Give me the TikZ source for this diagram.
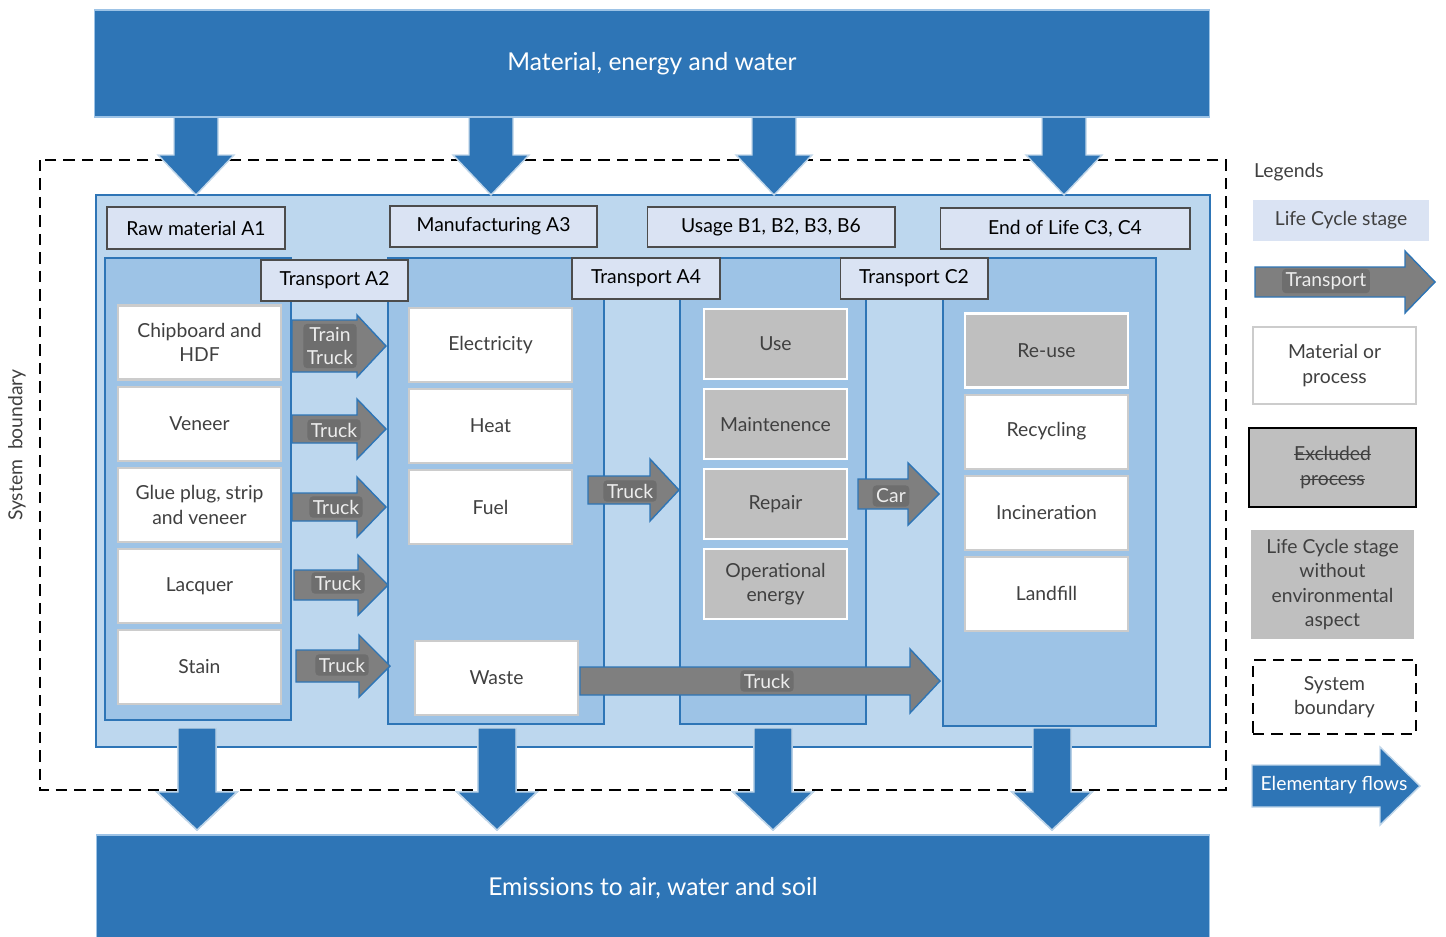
\documentclass[tikz,border=0pt]{standalone}
\usepackage{fontspec}
\setmainfont{Lato}
\usepackage{tikz}
\usetikzlibrary{positioning}
\definecolor{flowblue}{HTML}{2E75B6}
\definecolor{panelblue}{HTML}{BDD7EE}
\definecolor{stageblue}{HTML}{9DC3E6}
\definecolor{headblue}{HTML}{DAE3F3}
\definecolor{excgray}{HTML}{BFBFBF}
\definecolor{trgray}{HTML}{7F7F7F}
\definecolor{txtgray}{HTML}{404040}
\tikzstyle{boxfont} = [font=\fontsize{11}{14}\selectfont]
\tikzstyle{banner} = [rectangle, fill=flowblue, draw=stageblue, line width=0.6pt, text=white, font=\fontsize{14}{16}\selectfont]
\tikzstyle{boundary} = [draw=black, line width=1.1pt, dash pattern=on 6.5pt off 4pt]
\tikzstyle{mainpanel} = [draw=flowblue, fill=panelblue, line width=1pt]
\tikzstyle{stagepanel} = [draw=flowblue, fill=stageblue, line width=1pt]
\tikzstyle{header} = [rectangle, draw=black!70, fill=headblue, line width=0.6pt, text centered, boxfont]
\tikzstyle{material} = [rectangle, draw=black!20, fill=white, line width=1.2pt, text centered, align=center, text=txtgray, boxfont, minimum width=3.26cm, minimum height=1.48cm]
\tikzstyle{excluded} = [rectangle, draw=white, fill=excgray, line width=1.2pt, text centered, align=center, text=txtgray, boxfont, minimum height=1.4cm]
\tikzstyle{transport} = [fill=trgray, draw=flowblue, line width=0.8pt]
\tikzstyle{translabel} = [fill=black!57, rounded corners=2pt, inner sep=2pt, text=white!93!black, align=center, font=\fontsize{11}{13}\selectfont]
\tikzstyle{flow} = [fill=flowblue, draw=flowblue!30, line width=0.8pt]
\tikzstyle{legtext} = [text=txtgray, align=center, boxfont]

% #1 style, #2 left, #3 head base, #4 tip, #5 centre y, #6 shaft half, #7 head half
\newcommand{\blockarrow}[7]{%
  \draw[#1] (#2,{#5-#6}) -- (#3,{#5-#6}) -- (#3,{#5-#7}) -- (#4,#5)
    -- (#3,{#5+#7}) -- (#3,{#5+#6}) -- (#2,{#5+#6}) -- cycle;}
% #1 x, #2 top, #3 head base, #4 tip, #5 shaft half, #6 head half
\newcommand{\downflow}[6]{%
  \draw[flow] ({#1-#5},#2) -- ({#1+#5},#2) -- ({#1+#5},#3) -- ({#1+#6},#3)
    -- (#1,#4) -- ({#1-#6},#3) -- ({#1-#5},#3) -- cycle;}
% struck-through word
\newlength{\strikelen}
\newcommand{\strikeword}[1]{\settowidth{\strikelen}{#1}\rlap{#1}\rule[0.55ex]{\strikelen}{0.5pt}}

\begin{document}
\begin{tikzpicture}[x=0.02cm, y=-0.02cm]
\useasboundingbox (0,0) rectangle (1446,936);

% system boundary, main panel and stages
\draw[boundary] (40,160) rectangle (1226,790);
\node (sysbound) [rotate=90, text=txtgray, boxfont] at (17,445) {System\ \ boundary};
\draw[mainpanel] (96,195) rectangle (1210,747);
\draw[stagepanel] (105,258) rectangle (291,720);
\draw[stagepanel] (388,258) rectangle (604,724);
\draw[stagepanel] (680,258) rectangle (866,724);
\draw[stagepanel] (943,258) rectangle (1156,726);

\node (raw) [header, minimum width=3.56cm, minimum height=0.84cm] at (196,228) {Raw material A1};
\node (manu) [header, minimum width=4.14cm, minimum height=0.82cm] at (493.5,226.5) {Manufacturing A3};
\node (usage) [header, minimum width=4.96cm, minimum height=0.8cm] at (771,227) {Usage B1, B2, B3, B6};
\node (eol) [header, minimum width=5cm, minimum height=0.82cm] at (1065,228.5) {End of Life C3, C4};
\node (trA2) [header, minimum width=2.94cm, minimum height=0.82cm] at (334.5,280.5) {Transport A2};
\node (trA4) [header, minimum width=2.96cm, minimum height=0.82cm] at (646,278.5) {Transport A4};
\node (trC2) [header, minimum width=2.96cm, minimum height=0.82cm] at (914,278.5) {Transport C2};

% raw materials
\node (chip) [material] at (199.5,342.5) {Chipboard and\\HDF};
\node (veneer) [material, below=0.1cm of chip] {Veneer};
\node (glue) [material, below=0.1cm of veneer] {Glue plug, strip\\and veneer};
\node (lacquer) [material, below=0.1cm of glue] {Lacquer};
\node (stain) [material, below=0.1cm of lacquer] {Stain};

% manufacturing
\node (elec) [material] at (490.5,345) {Electricity};
\node (heat) [material, below=0.1cm of elec] {Heat};
\node (fuel) [material, below=0.1cm of heat] {Fuel};
\node (waste) [material] at (496.5,678) {Waste};

% usage
\node (use) [excluded, minimum width=2.86cm] at (775.5,344) {Use};
\node (maint) [excluded, minimum width=2.86cm, below=0.16cm of use] {Maintenence};
\node (repair) [excluded, minimum width=2.86cm, below=0.16cm of maint] {Repair};
\node (openergy) [excluded, minimum width=2.86cm, below=0.16cm of repair] {Operational\\energy};

% end of life
\node (reuse) [excluded, minimum width=3.26cm, minimum height=1.48cm] at (1046.5,350.5) {Re-use};
\node (recycl) [material, below=0.1cm of reuse] {Recycling};
\node (incin) [material, below=0.1cm of recycl] {Incineration};
\node (landfill) [material, below=0.1cm of incin] {Landfill};

% transports
\blockarrow{transport}{292}{357}{386}{346}{26}{31}
\node (tr1) [translabel] at (330,346) {Train\\Truck};
\blockarrow{transport}{292}{357}{386}{429}{14}{30}
\node (tr2) [translabel] at (334,430) {Truck};
\blockarrow{transport}{292}{357}{386}{507}{14}{30}
\node (tr3) [translabel] at (336,507) {Truck};
\blockarrow{transport}{294}{358}{388}{585}{15}{30}
\node (tr4) [translabel] at (338,583) {Truck};
\blockarrow{transport}{296}{359}{390}{666}{16}{31}
\node (tr5) [translabel] at (342,665) {Truck};
\blockarrow{transport}{588}{650}{679}{490}{14}{31}
\node (tr6) [translabel] at (630,491) {Truck};
\blockarrow{transport}{858}{908}{939}{494}{15}{31}
\node (tr7) [translabel] at (891,496) {Car};
\blockarrow{transport}{580}{910}{940}{681}{14}{32}
\node (tr8) [translabel] at (767,681) {Truck};

% elementary flows
\foreach \x in {196,491,774,1064}
  \downflow{\x}{117}{155}{195}{22}{38}
\foreach \x in {197,497,773,1052}
  \downflow{\x}{728}{792}{830}{19}{40}
\node (inputs) [banner, minimum width=22.32cm, minimum height=2.14cm] at (652,63.5) {Material, energy and water};
\node (outputs) [banner, minimum width=22.28cm, minimum height=2.12cm] at (653,888) {Emissions to air, water and soil};

% legends
\node (legtitle) [anchor=west, legtext] at (1248,172) {Legends};
\node (legstage) [rectangle, fill=headblue, minimum width=3.52cm, minimum height=0.82cm, legtext] at (1341,220.5) {Life Cycle stage};
\blockarrow{transport}{1255}{1405}{1435}{282}{15}{31}
\node (legtrans) [translabel] at (1326,281) {Transport};
\node (legmat) [material, minimum height=1.54cm] at (1334.5,365.5) {Material or\\process};
\node (legexcl) [excluded, draw=black, line width=1.5pt, minimum width=3.34cm, minimum height=1.58cm] at (1332.5,467.5) {\strikeword{Excluded}\\\strikeword{process}};
\node (legnoenv) [excluded, draw=none, minimum width=3.26cm, minimum height=2.18cm] at (1332.5,584.5) {Life Cycle stage\\without\\environmental\\aspect};
\node (legbound) [boundary, legtext, minimum width=3.26cm, minimum height=1.48cm] at (1334.5,697) {System\\boundary};
\blockarrow{flow}{1252}{1380}{1420}{786}{21}{39}
\node (legflow) [text=white, boxfont] at (1334,785) {Elementary flows};
\end{tikzpicture}
\end{document}
